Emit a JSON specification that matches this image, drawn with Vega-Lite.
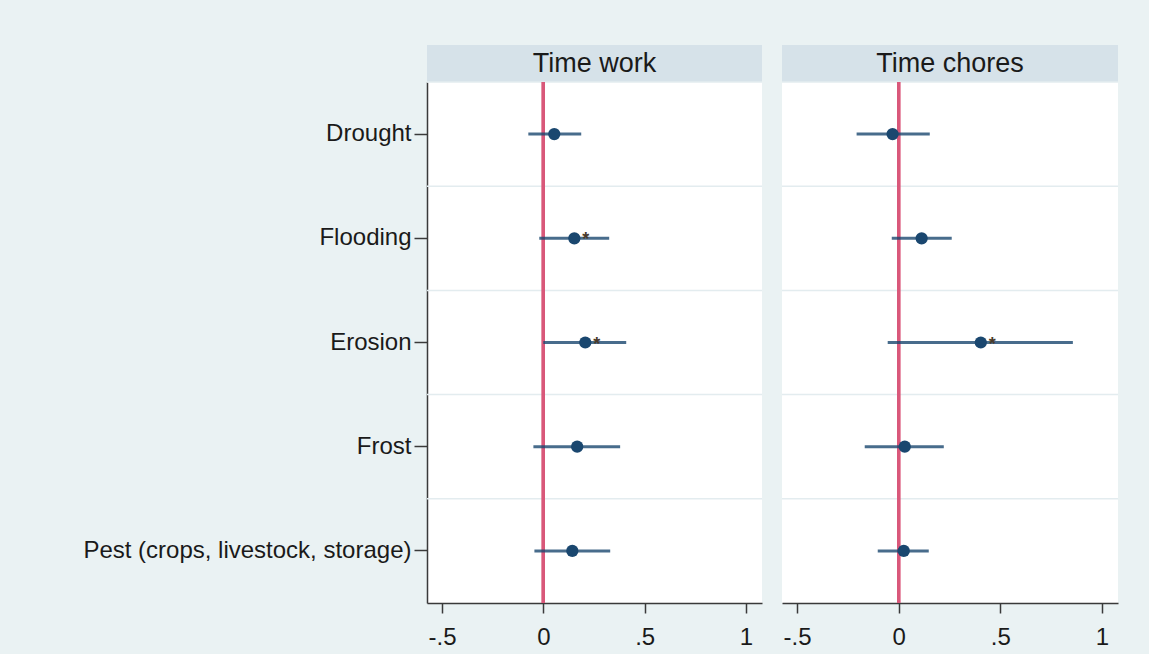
{
  "$schema": "https://vega.github.io/schema/vega-lite/v6.json",
  "background": "#eaf2f3",
  "padding": {"left": 82, "top": 45, "right": 31, "bottom": 5},
  "config": {
    "font": "Liberation Sans",
    "view": {"stroke": null},
    "axis": {"labelFont": "Liberation Sans", "labelColor": "#1a1a1a", "labelFontSize": 24, "labelLimit": 500, "domainColor": "#3a3a3a", "tickColor": "#3a3a3a", "domainWidth": 1.5, "tickWidth": 1.5, "grid": false, "title": null}
  },
  "datasets": {
    "coef": [
      {"outcome": "Time work", "shock": "Drought", "est": 0.054, "lo": -0.074, "hi": 0.187, "star": ""},
      {"outcome": "Time work", "shock": "Flooding", "est": 0.153, "lo": -0.020, "hi": 0.325, "star": "*"},
      {"outcome": "Time work", "shock": "Erosion", "est": 0.207, "lo": 0.000, "hi": 0.409, "star": "*"},
      {"outcome": "Time work", "shock": "Frost", "est": 0.167, "lo": -0.049, "hi": 0.379, "star": ""},
      {"outcome": "Time work", "shock": "Pest (crops, livestock, storage)", "est": 0.143, "lo": -0.044, "hi": 0.330, "star": ""},
      {"outcome": "Time chores", "shock": "Drought", "est": -0.030, "lo": -0.207, "hi": 0.153, "star": ""},
      {"outcome": "Time chores", "shock": "Flooding", "est": 0.113, "lo": -0.034, "hi": 0.261, "star": ""},
      {"outcome": "Time chores", "shock": "Erosion", "est": 0.404, "lo": -0.054, "hi": 0.857, "star": "*"},
      {"outcome": "Time chores", "shock": "Frost", "est": 0.030, "lo": -0.167, "hi": 0.222, "star": ""},
      {"outcome": "Time chores", "shock": "Pest (crops, livestock, storage)", "est": 0.025, "lo": -0.103, "hi": 0.148, "star": ""}
    ]
  },
  "spacing": 18,
  "hconcat": [
    {
      "spacing": 0,
      "bounds": "flush",
      "vconcat": [
        {
          "width": 335, "height": 37,
          "data": {"name": "coef"},
          "transform": [{"filter": "datum.outcome === 'Time work' && datum.shock === 'Drought'"}],
          "view": {"fill": "#d6e2e9", "stroke": null},
          "mark": {"type": "text", "fontSize": 27, "color": "#1a1a1a", "baseline": "middle", "align": "center"},
          "encoding": {"text": {"field": "outcome"}}
        },
        {
          "width": 335, "height": 521,
          "data": {"name": "coef"},
          "transform": [{"filter": "datum.outcome === 'Time work'"}],
          "view": {"fill": "white", "stroke": null},
          "layer": [
            {
              "mark": {"type": "rule", "color": "#e3ecef", "strokeWidth": 1.5},
              "encoding": {
                "y": {"field": "shock", "type": "nominal", "bandPosition": 0, "sort": ["Drought", "Flooding", "Erosion", "Frost", "Pest (crops, livestock, storage)"], "scale": {"paddingInner": 0, "paddingOuter": 0}, "axis": {"tickSize": 13, "labelPadding": 3, "bandPosition": 0.5}}
              }
            },
            {
              "mark": {"type": "rule", "color": "#d9587a", "strokeWidth": 3},
              "encoding": {"x": {"datum": 0, "type": "quantitative", "scale": {"domain": [-0.574, 1.079], "nice": false, "zero": false}}}
            },
            {
              "mark": {"type": "rule", "color": "#1a476f", "strokeWidth": 3, "opacity": 0.8},
              "encoding": {
                "x": {"field": "lo", "type": "quantitative", "scale": {"domain": [-0.574, 1.079], "nice": false, "zero": false}, "axis": {"values": [-0.5, 0, 0.5, 1], "tickSize": 10, "labelPadding": 12, "labelExpr": "replace(replace(format(datum.value, '.1~f'), '0.', '.'), '\u2212', '-')"}},
                "x2": {"field": "hi"},
                "y": {"field": "shock", "type": "nominal", "sort": ["Drought", "Flooding", "Erosion", "Frost", "Pest (crops, livestock, storage)"]}
              }
            },
            {
              "mark": {"type": "point", "filled": true, "color": "#1a476f", "opacity": 1, "size": 150},
              "encoding": {
                "x": {"field": "est", "type": "quantitative"},
                "y": {"field": "shock", "type": "nominal", "sort": ["Drought", "Flooding", "Erosion", "Frost", "Pest (crops, livestock, storage)"]}
              }
            },
            {
              "mark": {"type": "text", "fontSize": 18, "fontWeight": "bold", "color": "#4a3a2a", "align": "left", "baseline": "middle", "dx": 8, "dy": 2},
              "encoding": {
                "x": {"field": "est", "type": "quantitative"},
                "y": {"field": "shock", "type": "nominal", "sort": ["Drought", "Flooding", "Erosion", "Frost", "Pest (crops, livestock, storage)"]},
                "text": {"field": "star"}
              }
            }
          ]
        }
      ]
    },
    {
      "spacing": 0,
      "bounds": "flush",
      "vconcat": [
        {
          "width": 336, "height": 37,
          "data": {"name": "coef"},
          "transform": [{"filter": "datum.outcome === 'Time chores' && datum.shock === 'Drought'"}],
          "view": {"fill": "#d6e2e9", "stroke": null},
          "mark": {"type": "text", "fontSize": 27, "color": "#1a1a1a", "baseline": "middle", "align": "center"},
          "encoding": {"text": {"field": "outcome"}}
        },
        {
          "width": 336, "height": 521,
          "data": {"name": "coef"},
          "transform": [{"filter": "datum.outcome === 'Time chores'"}],
          "view": {"fill": "white", "stroke": null},
          "layer": [
            {
              "mark": {"type": "rule", "color": "#e3ecef", "strokeWidth": 1.5},
              "encoding": {
                "y": {"field": "shock", "type": "nominal", "bandPosition": 0, "sort": ["Drought", "Flooding", "Erosion", "Frost", "Pest (crops, livestock, storage)"], "scale": {"paddingInner": 0, "paddingOuter": 0}, "axis": null}
              }
            },
            {
              "mark": {"type": "rule", "color": "#d9587a", "strokeWidth": 3},
              "encoding": {"x": {"datum": 0, "type": "quantitative", "scale": {"domain": [-0.574, 1.079], "nice": false, "zero": false}}}
            },
            {
              "mark": {"type": "rule", "color": "#1a476f", "strokeWidth": 3, "opacity": 0.8},
              "encoding": {
                "x": {"field": "lo", "type": "quantitative", "scale": {"domain": [-0.574, 1.079], "nice": false, "zero": false}, "axis": {"values": [-0.5, 0, 0.5, 1], "tickSize": 10, "labelPadding": 12, "labelExpr": "replace(replace(format(datum.value, '.1~f'), '0.', '.'), '\u2212', '-')"}},
                "x2": {"field": "hi"},
                "y": {"field": "shock", "type": "nominal", "sort": ["Drought", "Flooding", "Erosion", "Frost", "Pest (crops, livestock, storage)"]}
              }
            },
            {
              "mark": {"type": "point", "filled": true, "color": "#1a476f", "opacity": 1, "size": 150},
              "encoding": {
                "x": {"field": "est", "type": "quantitative"},
                "y": {"field": "shock", "type": "nominal", "sort": ["Drought", "Flooding", "Erosion", "Frost", "Pest (crops, livestock, storage)"]}
              }
            },
            {
              "mark": {"type": "text", "fontSize": 18, "fontWeight": "bold", "color": "#4a3a2a", "align": "left", "baseline": "middle", "dx": 8, "dy": 2},
              "encoding": {
                "x": {"field": "est", "type": "quantitative"},
                "y": {"field": "shock", "type": "nominal", "sort": ["Drought", "Flooding", "Erosion", "Frost", "Pest (crops, livestock, storage)"]},
                "text": {"field": "star"}
              }
            }
          ]
        }
      ]
    }
  ]
}
